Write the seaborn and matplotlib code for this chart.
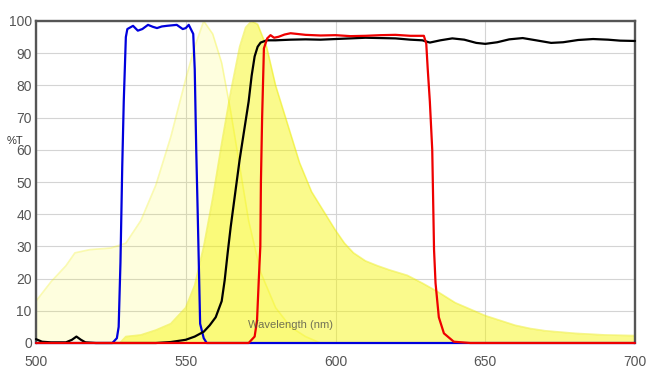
import matplotlib
matplotlib.use("Agg")
import matplotlib.pyplot as plt
import pandas as pd
import seaborn as sns

# excitation spectrum (pale fill)
ex_wl = [500, 505, 510, 513, 518, 525, 530, 535, 540, 545, 550, 553, 556, 559, 562, 565, 568, 571, 575, 580, 585, 590, 595]
ex_t = [13, 19, 24, 28, 29, 29.5, 31, 38, 49, 64, 82, 92, 100, 96, 87, 72, 55, 38, 22, 11, 5, 2, 0]

# emission spectrum (bright fill)
em_wl = [528, 530, 535, 540, 545, 550, 553, 556, 559, 562, 565, 568, 570, 572, 574, 577, 580, 584, 588, 592, 596,
         600, 603, 606, 610, 614, 618, 624, 629, 634, 640, 645, 650, 655, 660, 665, 670, 680, 690, 700]
em_t = [0, 2, 2.5, 4, 6, 11, 18, 30, 45, 62, 78, 92, 98, 100, 99, 92, 80, 68, 56, 47, 41,
        35, 31, 28, 25.5, 24, 22.7, 21, 18.6, 16, 12.5, 10.5, 8.5, 7, 5.5, 4.5, 3.8, 3, 2.5, 2.3]

# excitation filter (blue)
exf_wl = [500, 525.5, 527, 527.6, 528.2, 528.8, 529.3, 530, 530.5, 532.4, 534, 535.5, 537.4, 539, 540.4, 542,
          543.7, 547, 549, 550, 551, 552.5, 553, 553.5, 554, 554.8, 556, 557, 700]
exf_t = [0, 0, 1.5, 5, 25, 55, 75, 95, 97.5, 98.5, 97, 97.5, 98.8, 98.2, 97.8, 98.3,
         98.5, 98.8, 97.5, 97.8, 98.8, 96, 85, 60, 40, 6, 1.5, 0, 0]

# dichroic (black)
dic_wl = [500, 502, 505, 510, 512, 513.5, 515, 516.5, 520, 540, 545, 550, 553, 556, 558, 560, 562, 563, 564, 565,
          566, 567, 568, 569, 570, 571, 572, 573, 574, 575, 577, 580, 585, 590, 595, 600, 610, 620, 625, 629,
          631.5, 635, 639, 643, 647, 650, 654, 658, 662.5, 667, 672, 676, 681, 686, 691, 695, 700]
dic_t = [1.2, 0.4, 0.2, 0.2, 1, 2, 1, 0.2, 0, 0, 0.3, 1, 2, 3.5, 5.5, 8, 13, 19.5, 28, 36,
         43, 50, 57, 63, 69, 75, 83, 89, 92, 93.3, 94, 94, 94.2, 94.3, 94.2, 94.4, 94.8, 94.6, 94.2, 94,
         93.3, 94, 94.6, 94.2, 93.2, 92.9, 93.4, 94.3, 94.7, 94, 93.2, 93.4, 94.1, 94.4, 94.2, 93.9, 93.8]

# emission filter (red)
emf_wl = [500, 571, 573, 573.8, 574.4, 574.9, 575.1, 575.5, 576.1, 577.2, 578.3, 579.5, 581, 583, 585, 590, 595,
          600, 605, 610, 615, 620, 625, 629.5, 630.3, 630.8, 631.5, 632.3, 632.9, 633.4, 634.5, 636.2, 639.5, 645, 700]
emf_t = [0, 0, 2, 7, 20, 30, 50, 70, 91.5, 94.6, 95.6, 94.8, 95.1, 95.8, 96.2, 95.7, 95.5,
         95.6, 95.3, 95.4, 95.6, 95.7, 95.4, 95.4, 93, 85, 75, 60, 29, 18.6, 8, 3, 0.4, 0, 0]

x_ticks = [500, 550, 600, 650, 700]
y_ticks = [0, 10, 20, 30, 40, 50, 60, 70, 80, 90, 100]

sns.set_style("whitegrid", {"grid.color": "#d4d4d4", "axes.edgecolor": "#555555"})
plt.rcParams['font.family'] = ['Liberation Sans', 'DejaVu Sans']

fig = plt.figure(figsize=(6.6, 3.78), dpi=100)
ax = fig.add_axes([36 / 660, 1 - 343 / 378, 599 / 660, 322 / 378])

# spectra fills
ax.fill_between(ex_wl, ex_t, 0, color="#f8f800", alpha=0.13, linewidth=0, zorder=1)
ax.plot(ex_wl, ex_t, color="#f0f000", alpha=0.3, linewidth=1.2, zorder=1)
ax.fill_between(em_wl, em_t, 0, color="#f6f600", alpha=0.45, linewidth=0, zorder=1)
ax.plot(em_wl, em_t, color="#eaea00", alpha=0.45, linewidth=1.2, zorder=1)

# filter curves
lines = [(exf_wl, exf_t, "#0000dd"), (dic_wl, dic_t, "#000000"), (emf_wl, emf_t, "#ee0000")]
for wl, t, c in lines:
    df = pd.DataFrame({"wl": wl, "t": t})
    sns.lineplot(data=df, x="wl", y="t", color=c, linewidth=1.6, ax=ax, zorder=4,
                 estimator=None, sort=False, clip_on=False)

ax.set_xlim(500, 700)
ax.set_ylim(0, 100)
ax.set_xticks(x_ticks)
ax.set_yticks(y_ticks)
ax.tick_params(axis="both", length=0, labelsize=10, labelcolor="#555555")
ax.tick_params(axis="x", pad=9)
ax.tick_params(axis="y", pad=3)
ax.set_xlabel("")
ax.set_ylabel("")
ax.grid(True, color="#d4d4d4", linewidth=0.8)
ax.set_axisbelow(True)

for s in ["top", "right", "left"]:
    ax.spines[s].set_linewidth(1.7)
    ax.spines[s].set_color("#555555")
ax.spines["bottom"].set_visible(False)

fig.text(7 / 660, 1 - 141 / 378, "%T", fontsize=8, color="#333333", ha="left", va="center")
ax.text(570.7, 5.5, "Wavelength (nm)", fontsize=8, color="#444444", alpha=0.75, ha="left", va="center", zorder=5)

fig.savefig("out.png", dpi=100)
